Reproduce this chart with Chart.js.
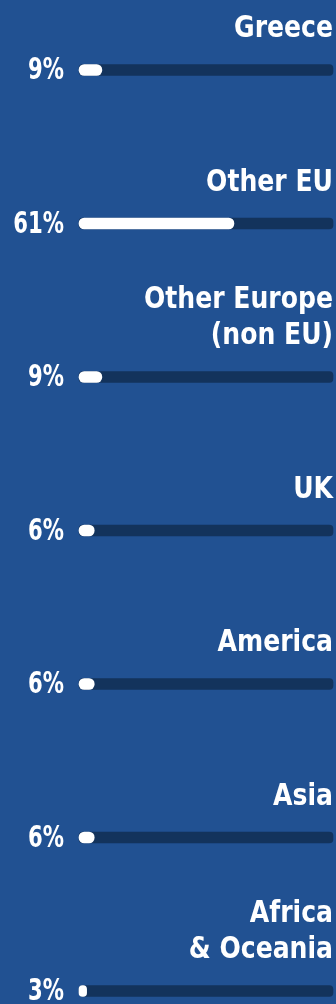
<!DOCTYPE html>
<html>
<head>
<meta charset="utf-8">
<script src="https://cdn.jsdelivr.net/npm/chart.js@4"></script>
<style>
  html, body { margin: 0; padding: 0; background: #215192; }
  #wrap { width: 336px; height: 1004px; }
</style>
</head>
<body>
<div id="wrap"><canvas id="c" width="336" height="1004"></canvas></div>
<script>
// Share of visitors by region of origin
const regions = ['Greece', 'Other EU', ['Other Europe', '(non EU)'], 'UK', 'America', 'Asia', ['Africa', '& Oceania']];
const shares = [9, 61, 9, 6, 6, 6, 3];
const trackFull = [100, 100, 100, 100, 100, 100, 100];

const FONT = 'bold 31px "DejaVu Sans Condensed", "DejaVu Sans", sans-serif';

// draw text squeezed horizontally, anchored at its right edge
function condensedText(ctx, text, x, y, sx, baseline) {
  ctx.save();
  ctx.translate(x, y);
  ctx.scale(sx, 1);
  ctx.textAlign = 'right';
  ctx.textBaseline = baseline;
  ctx.fillText(text, 0, 0);
  ctx.restore();
}

// Region names above each bar, percentages to the left
const labelPlugin = {
  id: 'regionLabels',
  afterDatasetsDraw(chart) {
    const ctx = chart.ctx;
    const yScale = chart.scales.y;
    const area = chart.chartArea;
    ctx.save();
    ctx.fillStyle = '#ffffff';
    ctx.font = FONT;
    regions.forEach((name, i) => {
      const y = yScale.getPixelForValue(i);
      const lines = Array.isArray(name) ? name : [name];
      for (let k = 0; k < lines.length; k++) {
        const lineY = y - 33 - (lines.length - 1 - k) * 36;
        condensedText(ctx, lines[k], area.right, lineY, 0.9, 'alphabetic');
      }
      condensedText(ctx, shares[i] + '%', area.left - 15, y + 1, 0.76, 'middle');
    });
    ctx.restore();
  }
};

new Chart(document.getElementById('c'), {
  type: 'bar',
  data: {
    labels: regions,
    datasets: [
      {
        data: shares,
        backgroundColor: '#ffffff',
        borderRadius: 6,
        borderSkipped: false,
        barThickness: 11,
        grouped: false,
        clip: false,
        order: 1
      },
      {
        data: trackFull,
        backgroundColor: '#13335c',
        borderRadius: 4,
        borderSkipped: false,
        barThickness: 11,
        grouped: false,
        clip: false,
        order: 2
      }
    ]
  },
  options: {
    indexAxis: 'y',
    responsive: false,
    animation: false,
    devicePixelRatio: 1,
    layout: { padding: { left: 79, right: 3, top: 70, bottom: 13 } },
    plugins: { legend: { display: false }, tooltip: { enabled: false } },
    scales: {
      x: { display: false, min: 0, max: 100 },
      y: { display: false, offset: false }
    }
  },
  plugins: [labelPlugin]
});
</script>
</body>
</html>
